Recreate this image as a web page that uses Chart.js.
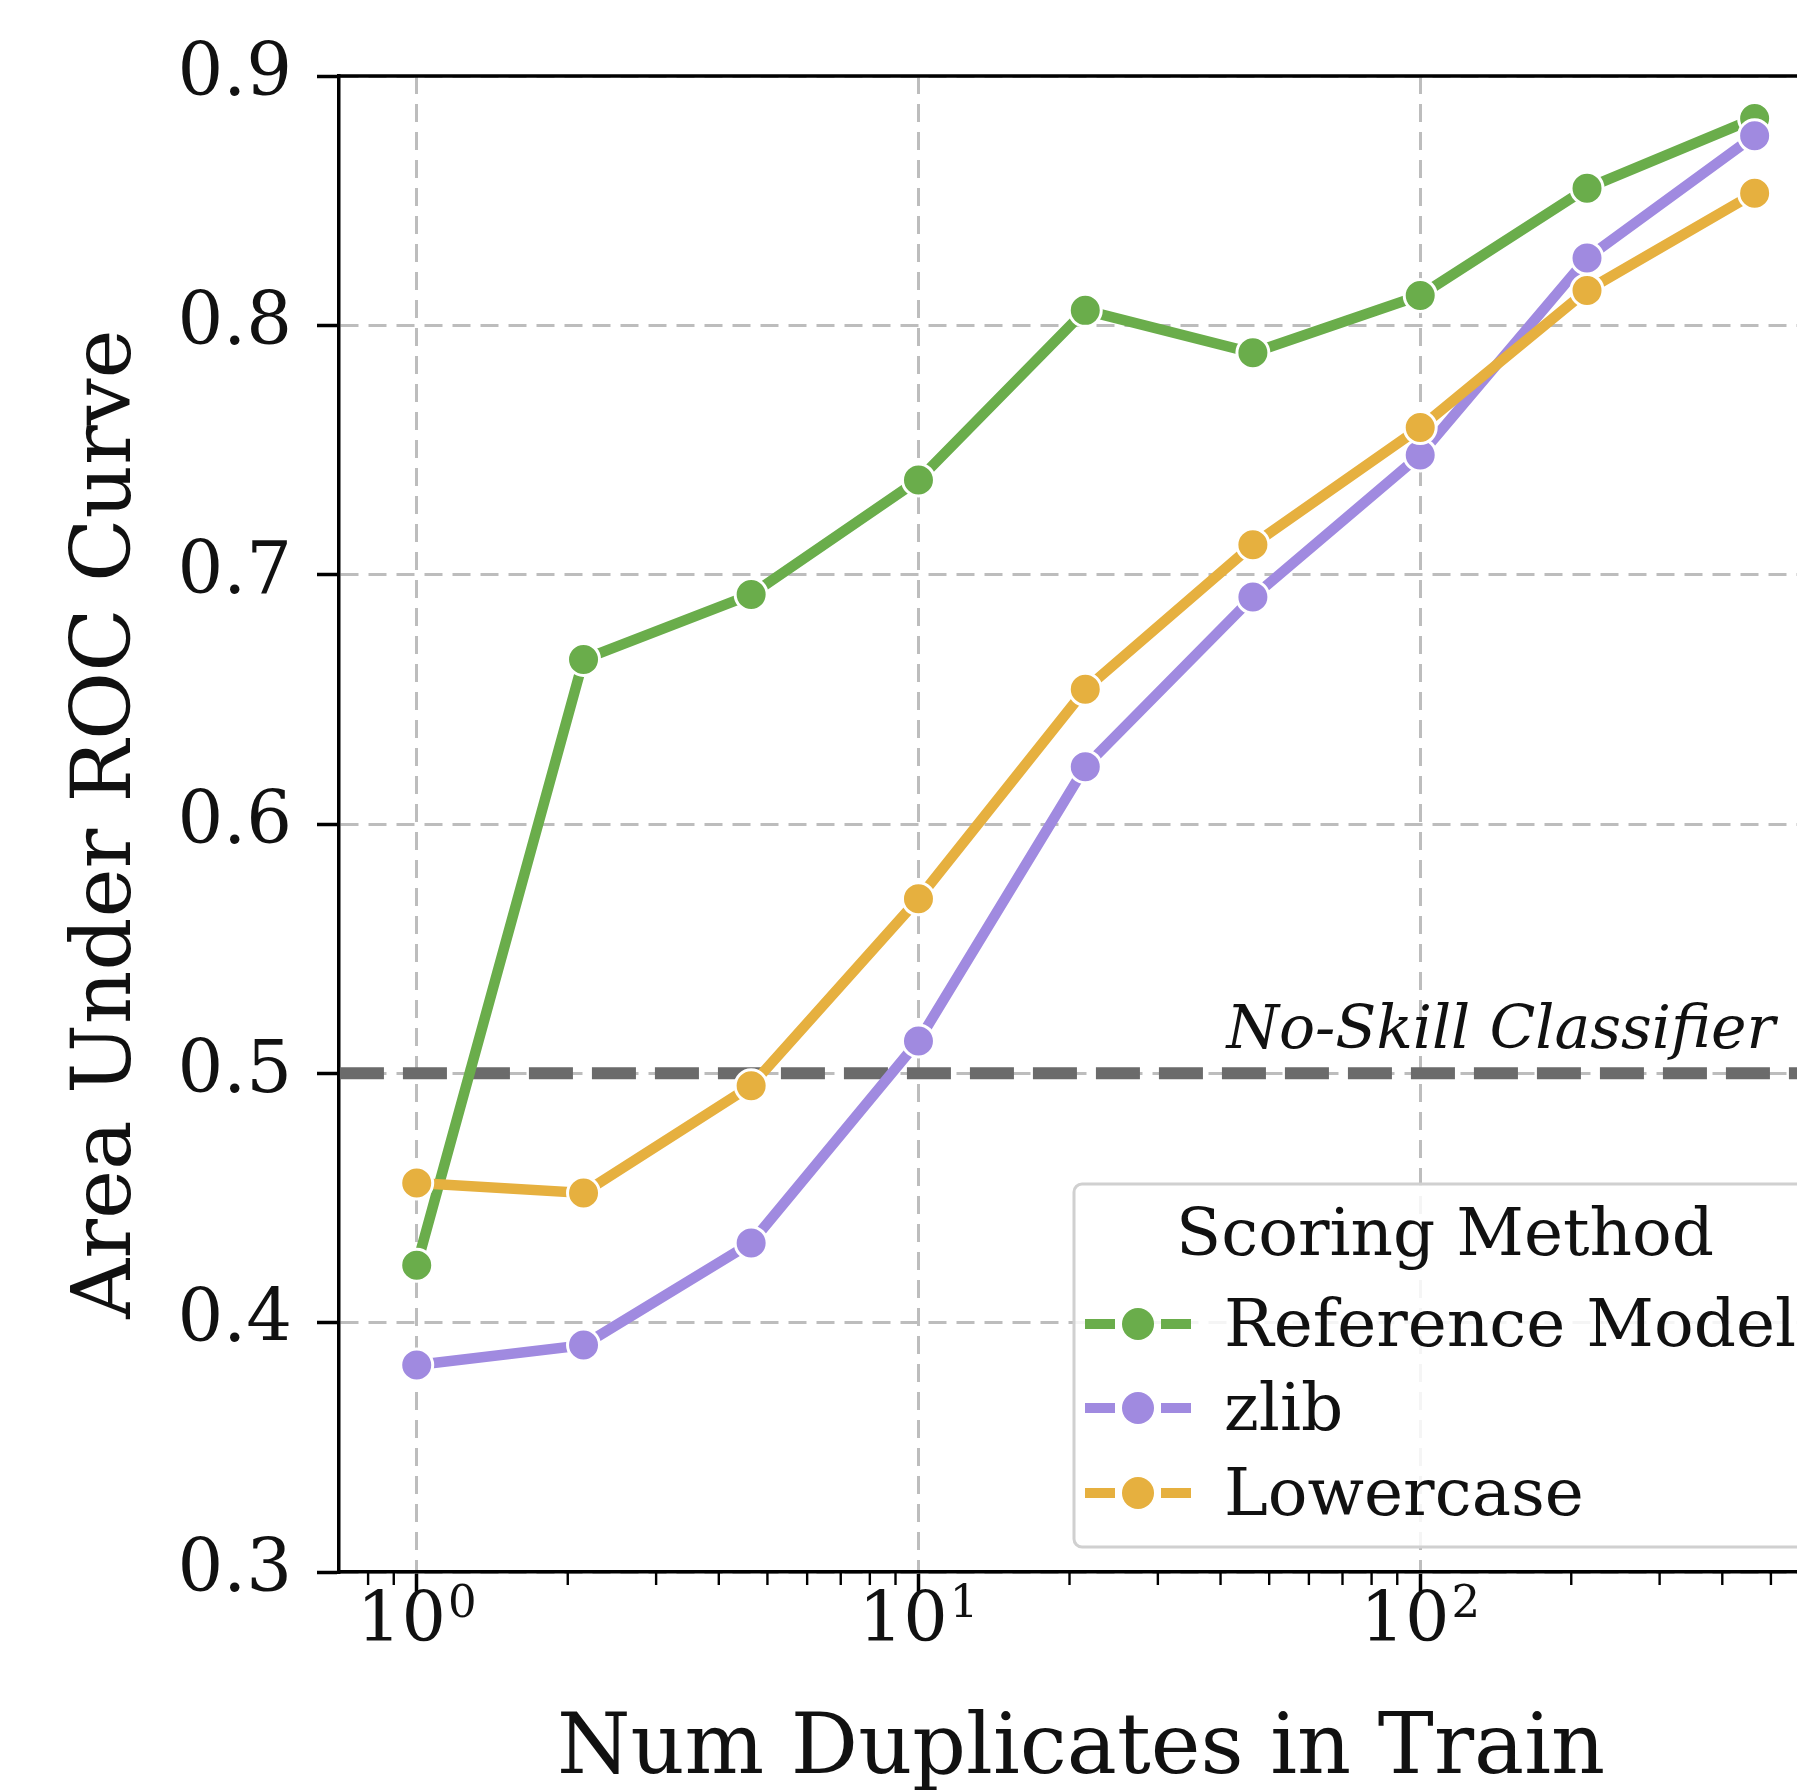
<!DOCTYPE html>
<html>
<head>
<meta charset="utf-8">
<script src="https://cdn.jsdelivr.net/npm/chart.js@4.4.1/dist/chart.umd.min.js"></script>
<style>
  html, body { margin: 0; padding: 0; background: #fff; overflow: hidden; }
  #wrap { position: relative; width: 1842px; height: 1790px; }
</style>
</head>
<body>
<div id="wrap"><canvas id="chart"></canvas></div>
<script>
// ----------------- DATA -----------------
const duplicates = [1, 2.15, 4.64, 10, 21.5, 46.4, 100, 215, 464];
const referenceModel = [0.423, 0.666, 0.692, 0.738, 0.806, 0.789, 0.812, 0.855, 0.883];
const zlib = [0.383, 0.391, 0.432, 0.513, 0.623, 0.691, 0.748, 0.827, 0.876];
const lowercase = [0.456, 0.452, 0.495, 0.570, 0.654, 0.712, 0.759, 0.814, 0.853];
const seriesNames = ["Reference Model", "zlib", "Lowercase"];
const seriesColors = ["#6aad4b", "#a08ae0", "#e6b03f"];
const noSkillValue = 0.5;
const noSkillLabel = "No-Skill Classifier";
const yTicks = [0.3, 0.4, 0.5, 0.6, 0.7, 0.8, 0.9];
const xMajorTicks = [1, 10, 100];
const xTickBase = "10";
const xTickExponents = ["0", "1", "2"];
const legendTitle = "Scoring Method";

const FONT = "'DejaVu Serif', 'Liberation Serif', serif";
const X_MIN = 0.703, X_MAX = 635;

// ----------------- HELPERS -----------------
function makeSeries(label, values, color, order) {
  return {
    label: label,
    order: order,
    data: duplicates.map((x, i) => ({ x: x, y: values[i] })),
    borderColor: color,
    backgroundColor: color,
    borderWidth: 10.5,
    pointRadius: 16,
    pointHoverRadius: 16,
    pointBorderWidth: 3,
    pointBorderColor: "#fff",
    pointBackgroundColor: color,
    tension: 0,
  };
}

// minor ticks, top spine, x tick labels, no-skill label, legend
const decorations = {
  id: "decorations",
  afterDraw(chart) {
    const { ctx, chartArea } = chart;
    const xs = chart.scales.x, ys = chart.scales.y;

    ctx.save();
    // top spine
    ctx.strokeStyle = "#000";
    ctx.lineWidth = 3.5;
    ctx.beginPath();
    ctx.moveTo(chartArea.left - 1.75, chartArea.top);
    ctx.lineTo(chartArea.right, chartArea.top);
    ctx.stroke();

    // minor log ticks
    ctx.lineWidth = 2.4;
    for (let d = 0.1; d <= 1000; d *= 10) {
      for (let m = 2; m <= 9; m++) {
        const v = d * m;
        if (v < X_MIN || v > X_MAX) continue;
        const px = xs.getPixelForValue(v);
        ctx.beginPath();
        ctx.moveTo(px, chartArea.bottom);
        ctx.lineTo(px, chartArea.bottom + 13);
        ctx.stroke();
      }
    }

    // x tick labels as 10^n
    ctx.fillStyle = "#111";
    ctx.textBaseline = "alphabetic";
    ctx.textAlign = "left";
    xs.ticks.forEach((t, i) => {
      const px = xs.getPixelForValue(t.value);
      ctx.font = "70px " + FONT;
      const wBase = ctx.measureText(xTickBase).width;
      ctx.font = "45px " + FONT;
      const wExp = ctx.measureText(xTickExponents[i]).width;
      const x0 = px - (wBase + wExp + 2) / 2;
      const baseY = chartArea.bottom + 69;
      ctx.font = "70px " + FONT;
      ctx.fillText(xTickBase, x0, baseY);
      ctx.font = "45px " + FONT;
      ctx.fillText(xTickExponents[i], x0 + wBase + 2, baseY - 24);
    });

    // no-skill label
    ctx.font = "italic 60px " + FONT;
    ctx.textAlign = "right";
    ctx.fillText(noSkillLabel, xs.getPixelForValue(510), ys.getPixelForValue(noSkillValue) - 25);

    // legend
    const L = 1074, R = chartArea.right - 13;
    const B = chartArea.bottom - 25, T = B - 363;
    ctx.fillStyle = "rgba(255,255,255,0.85)";
    ctx.strokeStyle = "#d0d0d0";
    ctx.lineWidth = 3;
    ctx.beginPath();
    ctx.roundRect(L, T, R - L, B - T, 8);
    ctx.fill();
    ctx.stroke();

    ctx.fillStyle = "#111";
    ctx.font = "66px " + FONT;
    ctx.textAlign = "center";
    ctx.fillText(legendTitle, (L + R) / 2 + 3, T + 71);

    const rows = [140, 224, 309];
    seriesNames.forEach((name, i) => {
      const cy = T + rows[i];
      const color = seriesColors[i];
      ctx.strokeStyle = color;
      ctx.lineWidth = 10;
      ctx.beginPath();
      ctx.moveTo(L + 11, cy); ctx.lineTo(L + 41, cy);
      ctx.moveTo(L + 87, cy); ctx.lineTo(L + 117, cy);
      ctx.stroke();
      ctx.fillStyle = color;
      ctx.beginPath();
      ctx.arc(L + 64, cy, 16, 0, Math.PI * 2);
      ctx.fill();
      ctx.fillStyle = "#111";
      ctx.textAlign = "left";
      ctx.fillText(name, L + 150, cy + 22);
    });
    ctx.restore();
  }
};

// ----------------- CHART -----------------
const gridStyle = {
  color: "#bdbdbd",
  lineWidth: 3,
  tickLength: 22,
  tickColor: "#000",
  tickWidth: 3.5,
  tickBorderDash: [],
};

const chart = new Chart(document.getElementById("chart"), {
  type: "line",
  data: {
    datasets: [
      makeSeries(seriesNames[0], referenceModel, seriesColors[0], 3),
      makeSeries(seriesNames[1], zlib, seriesColors[1], 2),
      makeSeries(seriesNames[2], lowercase, seriesColors[2], 1),
      {
        label: noSkillLabel,
        order: 4,
        data: [{ x: X_MIN, y: noSkillValue }, { x: X_MAX, y: noSkillValue }],
        borderColor: "#6b6b6b",
        borderWidth: 12,
        borderDash: [44, 19],
        pointRadius: 0,
      },
    ],
  },
  options: {
    responsive: true,
    maintainAspectRatio: false,
    animation: false,
    layout: { padding: { top: 76, right: 0, left: 0, bottom: 0 } },
    plugins: { legend: { display: false }, tooltip: { enabled: false } },
    scales: {
      x: {
        type: "logarithmic",
        min: X_MIN,
        max: X_MAX,
        afterBuildTicks: s => { s.ticks = xMajorTicks.map(v => ({ value: v, major: true })); },
        afterFit: s => { s.height = 218; },
        ticks: {
          autoSkip: false,
          maxRotation: 0,
          callback: () => "",
        },
        grid: gridStyle,
        border: { display: true, color: "#000", width: 3.5, dash: [18, 10] },
        title: {
          display: true,
          text: "Num Duplicates in Train",
          color: "#111",
          font: { family: FONT, size: 84, lineHeight: 1 },
          padding: { top: 0, bottom: -3 },
        },
      },
      y: {
        min: 0.3,
        max: 0.9,
        afterBuildTicks: s => { s.ticks = yTicks.map(v => ({ value: v })); },
        afterFit: s => { s.width = 339; },
        ticks: {
          padding: 25,
          color: "#111",
          font: { family: FONT, size: 72 },
          callback: v => v.toFixed(1),
        },
        grid: gridStyle,
        border: { display: true, color: "#000", width: 3.5, dash: [18, 10] },
        title: {
          display: true,
          text: "Area Under ROC Curve",
          color: "#111",
          font: { family: FONT, size: 83, lineHeight: 1 },
          padding: { top: 67, bottom: 0 },
        },
      },
    },
  },
  plugins: [decorations],
});
</script>
</body>
</html>
